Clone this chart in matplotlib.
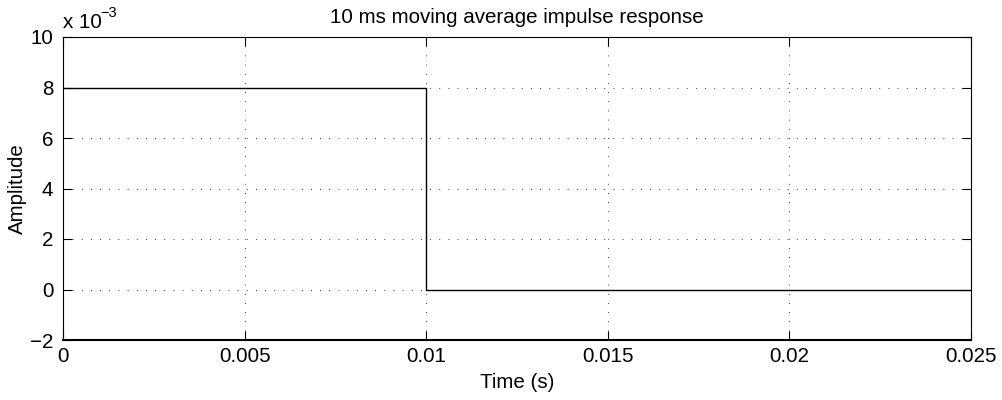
import matplotlib
matplotlib.use("Agg")
import matplotlib.pyplot as plt
from matplotlib.ticker import FuncFormatter

plt.rcParams["font.family"] = ["Liberation Sans", "DejaVu Sans"]
plt.rcParams["font.size"] = 14.8

# impulse response of a 10 ms moving average (step form)
t = [0.0, 0.01, 0.01, 0.025]
h = [0.008, 0.008, 0.0, 0.0]

xticks = [0, 0.005, 0.01, 0.015, 0.02, 0.025]
xlabels = ["0", "0.005", "0.01", "0.015", "0.02", "0.025"]
yticks = [-0.002, 0, 0.002, 0.004, 0.006, 0.008, 0.01]


def yfmt(v, p):
    return ("%g" % round(v * 1e3, 6)).replace("-", "\u2212")


fig = plt.figure(figsize=(10.02, 4.0), dpi=100)
ax = fig.add_axes([63 / 1002, 60 / 400, 908 / 1002, 303 / 400])

ax.plot(t, h, color="black", linewidth=1.0)

ax.set_xlim(0, 0.025)
ax.set_ylim(-0.002, 0.01)
ax.set_xticks(xticks)
ax.set_xticklabels(xlabels)
ax.set_yticks(yticks)
ax.yaxis.set_major_formatter(FuncFormatter(yfmt))

ax.grid(True, linestyle=(0, (1, 10)), color="black", linewidth=0.6)
ax.tick_params(direction="in", length=6.5, width=0.8, top=True, right=True)
ax.tick_params(axis="x", pad=5)
ax.tick_params(axis="y", pad=7)
for s in ax.spines.values():
    s.set_linewidth(0.8)
ax.spines["bottom"].set_linewidth(1.5)

# exponent label, MATLAB style
fig.text(63 / 1002, 1 - 28 / 400, "x 10", ha="left", va="baseline")
fig.text(100 / 1002, 1 - 17 / 400, "\u22123", ha="left", va="baseline", fontsize=10.5)

ax.set_title("10 ms moving average impulse response", fontsize=14.8, pad=10)
ax.set_xlabel("Time (s)")
ax.set_ylabel("Amplitude")
ax.xaxis.set_label_coords(0.5, -0.108)
ax.yaxis.set_label_coords(-0.04, 0.5)

fig.savefig("out.png", dpi=100)
